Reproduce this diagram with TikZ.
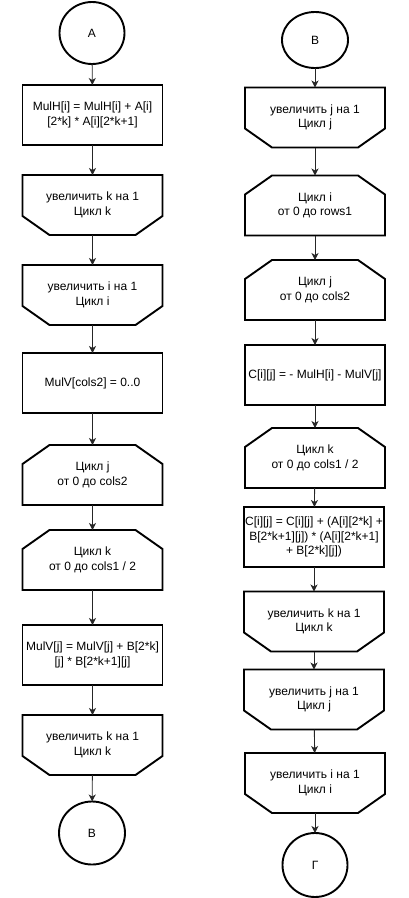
\documentclass[tikz,border=0pt]{standalone}
\usepackage{fontspec}
\setmainfont{Liberation Sans}
\usepackage{tikz}
\usetikzlibrary{shapes.geometric, arrows.meta}

\tikzset{
    blk/.style = {draw, line width=1.9pt, minimum width=140pt, minimum height=60pt, inner sep=0pt, outer sep=0pt, align=center, font=\fontsize{12}{14.5}\selectfont},
    loopblk/.style = {blk, draw=none},
    term/.style = {draw, ellipse, line width=1.9pt, inner sep=0pt, outer sep=0pt, font=\fontsize{12}{14.5}\selectfont},
    arr/.style = {-{Stealth[length=7pt, width=7pt, inset=2pt]}, line width=0.9pt, black!85},
}
\newcommand{\loopbeg}[1]{%
    \draw[line width=1.9pt] ([yshift=-19pt]#1.north west) -- ([xshift=27pt]#1.north west) -- ([xshift=-27pt]#1.north east) -- ([yshift=-19pt]#1.north east) -- (#1.south east) -- (#1.south west) -- cycle;}
\newcommand{\loopend}[1]{%
    \draw[line width=1.9pt] (#1.north west) -- (#1.north east) -- ([yshift=19pt]#1.south east) -- ([xshift=-27pt]#1.south east) -- ([xshift=27pt]#1.south west) -- ([yshift=19pt]#1.south west) -- cycle;}

\begin{document}
\begin{tikzpicture}[x=1pt, y=-1pt]
    \useasboundingbox (0,0) rectangle (408,898);
    % left column
    \node[term, minimum width=65pt, minimum height=62pt] (ca) at (92,33) {А};
    \node[blk] (mulh) at (92.5,115) {MulH[i] = MulH[i] + A[i]\\{}[2*k] * A[i][2*k+1]};
    \node[loopblk] (endk) at (92.5,205) {увеличить k на 1\\Цикл k};
    \node[loopblk] (endi) at (92.5,295) {увеличить i на 1\\Цикл i};
    \node[blk] (mulv) at (92.5,383) {MulV[cols2] = 0..0};
    \node[loopblk] (begj) at (92.5,475) {Цикл j\\от 0 до cols2};
    \node[loopblk] (begk) at (92.5,560) {Цикл k\\от 0 до cols1 / 2};
    \node[blk] (mulvj) at (92.5,655) {MulV[j] = MulV[j] + B[2*k]\\{}[j] * B[2*k+1][j]};
    \node[loopblk] (endk2) at (92.5,745) {увеличить k на 1\\Цикл k};
    \node[term, minimum width=66pt, minimum height=63pt] (cb) at (92,833) {В};
    \loopend{endk} \loopend{endi} \loopbeg{begj} \loopbeg{begk} \loopend{endk2}
    \draw[arr] (ca) -- (mulh);
    \draw[arr] (mulh) -- (endk);
    \draw[arr] (endk) -- (endi);
    \draw[arr] (endi) -- (mulv);
    \draw[arr] (mulv) -- (begj);
    \draw[arr] (begj) -- (begk);
    \draw[arr] (begk) -- (mulvj);
    \draw[arr] (mulvj) -- (endk2);
    \draw[arr] (endk2) -- (cb);
    % right column
    \node[term, minimum width=66pt, minimum height=56pt] (cb2) at (315,40) {В};
    \node[loopblk] (rendj) at (315,117.5) {увеличить j на 1\\Цикл j};
    \node[loopblk] (rbegi) at (315,205.5) {Цикл i\\от 0 до rows1};
    \node[loopblk] (rbegj) at (315,290) {Цикл j\\от 0 до cols2};
    \node[blk] (cinit) at (315,375) {C[i][j] = - MulH[i] - MulV[j]};
    \node[loopblk] (rbegk) at (315,458) {Цикл k\\от 0 до cols1 / 2};
    \node[blk] (csum) at (314,537) {C[i][j] = C[i][j] + (A[i][2*k] +\\B[2*k+1][j]) * (A[i][2*k+1]\\+ B[2*k][j])};
    \node[loopblk] (rendk) at (314,621.5) {увеличить k на 1\\Цикл k};
    \node[loopblk] (rendj2) at (314,699.5) {увеличить j на 1\\Цикл j};
    \node[loopblk] (rendi) at (315,783) {увеличить i на 1\\Цикл i};
    \node[term, minimum width=65pt, minimum height=64pt] (cg) at (315,865) {Г};
    \loopend{rendj} \loopbeg{rbegi} \loopbeg{rbegj} \loopbeg{rbegk}
    \loopend{rendk} \loopend{rendj2} \loopend{rendi}
    \draw[arr] (cb2) -- (rendj);
    \draw[arr] (rendj) -- (rbegi);
    \draw[arr] (rbegi) -- (rbegj);
    \draw[arr] (rbegj) -- (cinit);
    \draw[arr] (cinit) -- (rbegk);
    \draw[arr] (rbegk) -- (csum);
    \draw[arr] (csum) -- (rendk);
    \draw[arr] (rendk) -- (rendj2);
    \draw[arr] (rendj2) -- (rendi);
    \draw[arr] (rendi) -- (cg);
\end{tikzpicture}
\end{document}
